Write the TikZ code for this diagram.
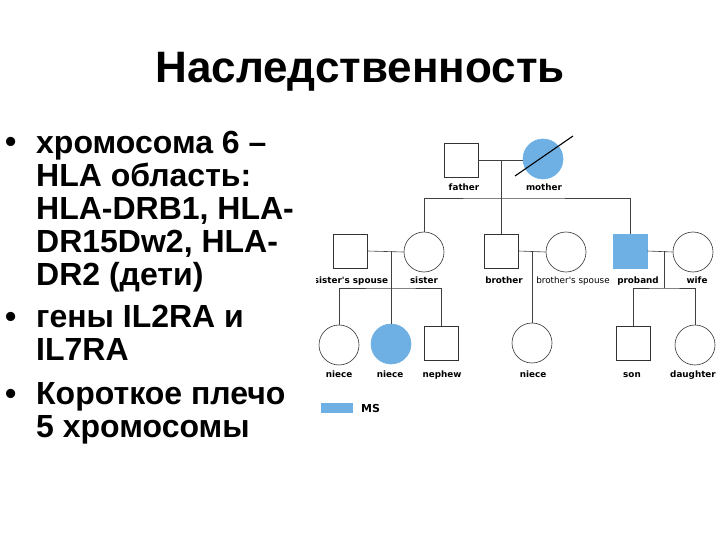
\documentclass[tikz,border=0pt]{standalone}
\usepackage{fontspec}
\setmainfont{Liberation Sans}
\newfontfamily\pedfont{DejaVu Sans}
\usetikzlibrary{positioning}
\definecolor{msblue}{RGB}{110,176,228}

\begin{document}
\begin{tikzpicture}[x=1pt, y=-1pt,
                    male/.style={rectangle, draw=black!80, line width=0.6pt, minimum size=34pt, inner sep=0pt},
                    female/.style={circle, draw=black!80, line width=0.6pt, minimum size=40pt, inner sep=0pt},
                    affected/.style={fill=msblue, draw=msblue},
                    lbl/.style={anchor=base, inner sep=0pt, font=\pedfont\bfseries\fontsize{8.8}{10}\selectfont},
                    link/.style={draw=black!75, line width=0.6pt},
                    bullettext/.style={anchor=base west, inner sep=0pt, align=left, font=\bfseries\fontsize{32}{33}\selectfont},]
    \useasboundingbox (0,0) rectangle (720,540);
    % title
    \node[anchor=base, inner sep=0pt, font=\bfseries\fontsize{44}{48}\selectfont] (title) at (360,83) {Наследственность};
    % bullets (base of a node = baseline of its last line)
    \node[bullettext] (dot1) at (5,153) {•};
    \node[bullettext] (item1) at (36,285) {хромосома 6 –\\HLA область:\\HLA-DRB1, HLA-\\DR15Dw2, HLA-\\DR2 (дети)};
    \node[bullettext] (dot2) at (5,327) {•};
    \node[bullettext] (item2) at (36,360) {гены IL2RA и\\IL7RA};
    \node[bullettext] (dot3) at (5,404) {•};
    \node[bullettext] (item3) at (36,437) {Короткое плечо\\5 хромосомы};
    % pedigree
    \begin{scope}
    \clip (316,120) rectangle (720,425);
    % persons
    \node[male]              (father)   at (461,160) {};
    \node[female, affected]  (mother)   at (543,159) {};
    \node[male]              (sisspouse) at (350,251) {};
    \node[female]            (sister)   at (424,252) {};
    \node[male]              (brother)  at (501,251) {};
    \node[female]            (brospouse) at (566,252) {};
    \node[male, affected]    (proband)  at (630,251) {};
    \node[female]            (wife)     at (693,252) {};
    \node[female]            (niecea)   at (339,345) {};
    \node[female, affected]  (nieceb)   at (391,344) {};
    \node[male]              (nephew)   at (441,343) {};
    \node[female]            (niecec)   at (532,343) {};
    \node[male]              (son)      at (633,343) {};
    \node[female]            (daughter) at (695,345) {};
    % labels
    \node[lbl] (lfather)    at (464,191) {father};
    \node[lbl] (lmother)    at (544,191) {mother};
    \node[lbl] (lsisspouse) at (351,283) {sister's spouse};
    \node[lbl] (lsister)    at (424,283) {sister};
    \node[lbl] (lbrother)   at (504,283) {brother};
    \node[lbl, font=\pedfont\fontsize{8.8}{10}\selectfont] (lbrospouse) at (573,283) {brother's spouse};
    \node[lbl] (lproband)   at (638,283) {proband};
    \node[lbl] (lwife)      at (697,283) {wife};
    \node[lbl] (lniecea)    at (339,377) {niece};
    \node[lbl] (lnieceb)    at (390,377) {niece};
    \node[lbl] (lnephew)    at (442,377) {nephew};
    \node[lbl] (lniecec)    at (533,377) {niece};
    \node[lbl] (lson)       at (632,377) {son};
    \node[lbl] (ldaughter)  at (693,377) {daughter};
    % junctions
    \coordinate (mparents) at (501,160);
    \coordinate (sparents) at (501,198);
    \coordinate (msister)  at (391,251);
    \coordinate (ssister)  at (391,288);
    \coordinate (mbrother) at (532,251);
    \coordinate (mproband) at (664,251);
    \coordinate (sproband) at (664,288);
    % lines
    \draw[link] (father.east) -- (father.east -| mother.west);
    \draw[link] (mparents) -- (brother.north);
    \draw[link] (sister.north) |- (sparents) -| (proband.north);
    \draw[link] (sisspouse.east) -- (sister.west);
    \draw[link] (msister) -- (nieceb.north);
    \draw[link] (niecea.north) |- (ssister) -| (nephew.north);
    \draw[link] (brother.east) -- (brospouse.west);
    \draw[link] (mbrother) -- (niecec.north);
    \draw[link] (proband.east) -- (wife.west);
    \draw[link] (mproband) -- (sproband);
    \draw[link] (son.north) |- (sproband) -| (daughter.north);
    % deceased
    \coordinate (strikea) at (515,176);
    \coordinate (strikeb) at (573,136);
    \draw[line width=1.1pt] (strikea) -- (strikeb);
    % legend
    \node[rectangle, fill=msblue, minimum width=32pt, minimum height=10pt, inner sep=0pt] (legbox) at (337,408) {};
    \node[anchor=base west, inner sep=0pt, font=\pedfont\bfseries\fontsize{11}{12}\selectfont] (legtext) at (361,412) {MS};
    \end{scope}
\end{tikzpicture}
\end{document}
